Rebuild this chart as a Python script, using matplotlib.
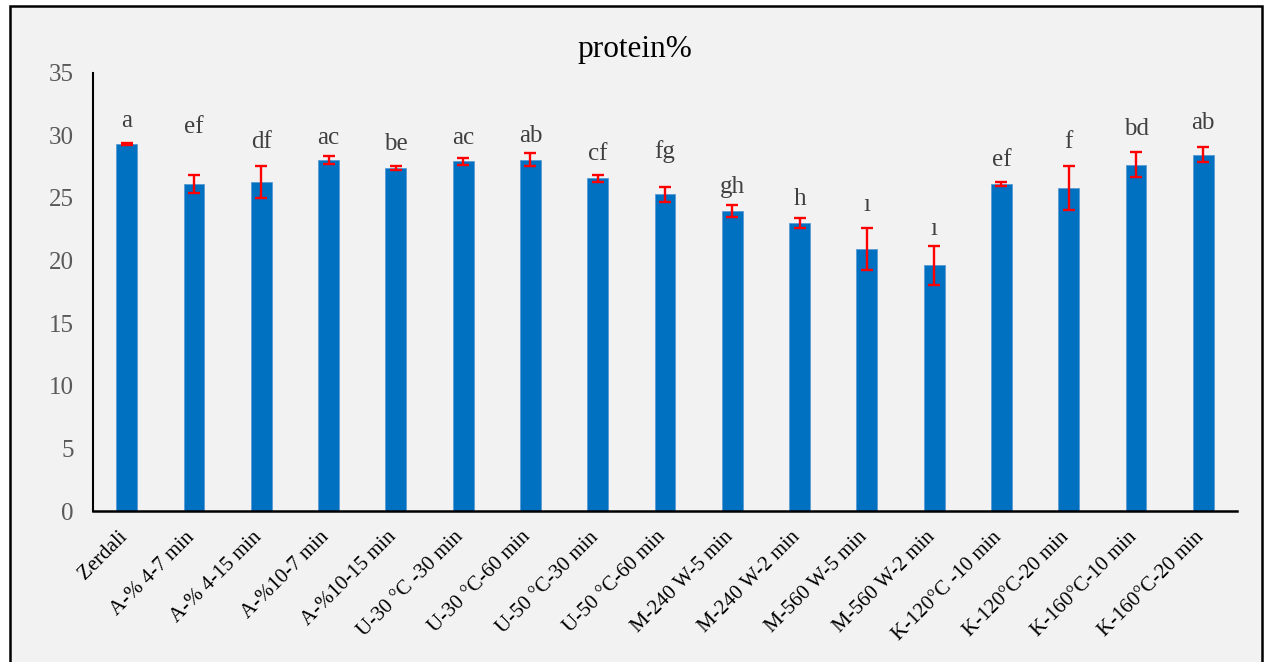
import matplotlib
matplotlib.use("Agg")
import matplotlib.pyplot as plt
from matplotlib.patches import Rectangle
from matplotlib.transforms import ScaledTranslation
import numpy as np

categories = ["Zerdali", "A-% 4-7 min", "A-% 4-15 min", "A-%10-7 min", "A-%10-15 min",
              "U-30 \u00b0C -30 min", "U-30 \u00b0C-60 min", "U-50 \u00b0C-30 min", "U-50 \u00b0C-60 min",
              "M-240 W-5 min", "M-240 W-2 min", "M-560 W-5 min", "M-560 W-2 min",
              "K-120\u00b0C -10 min", "K-120\u00b0C-20 min", "K-160\u00b0C-10 min", "K-160\u00b0C-20 min"]
values = [29.3, 26.1, 26.25, 28.0, 27.4, 27.9, 28.05, 26.55, 25.3, 23.95, 23.0, 20.9, 19.6,
          26.1, 25.8, 27.65, 28.45]
errors = [0.05, 0.7, 1.3, 0.33, 0.15, 0.28, 0.53, 0.3, 0.6, 0.47, 0.38, 1.65, 1.55,
          0.17, 1.77, 1.03, 0.6]
letters = ["a", "ef", "df", "ac", "be", "ac", "ab", "cf", "fg", "gh", "h", "\u0131", "\u0131",
           "ef", "f", "bd", "ab"]
letter_heights = [31.15, 30.65, 29.47, 29.79, 29.29, 29.79, 29.93, 28.49, 28.68, 25.86, 24.9,
                  24.42, 22.5, 28.01, 29.47, 30.49, 30.99]
yticks = [0, 5, 10, 15, 20, 25, 30, 35]
title = "protein%"

plt.rcParams['font.family'] = ['Liberation Serif', 'DejaVu Serif']

W, H = 1264, 662
fig = plt.figure(figsize=(W / 100, H / 100), dpi=100)
fig.patch.set_facecolor("white")
# chart area with border
fig.patches.append(Rectangle((10 / W, -0.05), (1262 - 10) / W, 1.05 - 6 / H,
                             transform=fig.transFigure, facecolor="#f2f2f2",
                             edgecolor="black", linewidth=1.8, zorder=-5))

ax = fig.add_axes([93 / W, 151 / H, (1237 - 93) / W, (511 - 72.5) / H])
ax.set_facecolor("none")

x = np.arange(len(categories))
ax.bar(x, values, width=0.31, color="#0070C0", edgecolor="#5b9bd5", linewidth=0.6, zorder=2)
ax.errorbar(x, values, yerr=errors, fmt="none", ecolor="#FF0000", elinewidth=1.7,
            capsize=4, capthick=1.7, zorder=3)

for xi, lab, hy in zip(x, letters, letter_heights):
    ax.text(xi, hy, lab, ha="center", va="center", fontsize=18, color="#404040")

ax.set_xlim(-0.5, len(categories) - 0.5)
ax.set_ylim(0, 35)
ax.set_yticks(yticks)
ax.tick_params(axis="y", length=0, pad=14, labelsize=18, labelcolor="#595959")
ax.tick_params(axis="x", length=0, pad=12)
ax.set_xticks(x)
ax.set_xticklabels(categories, rotation=45, ha="right", va="top", rotation_mode="anchor",
                   fontsize=15, color="black")
shift = ScaledTranslation(-9 / 100, 0, fig.dpi_scale_trans)
for lbl in ax.get_xticklabels():
    lbl.set_transform(lbl.get_transform() + shift)

for s in ["top", "right"]:
    ax.spines[s].set_visible(False)
ax.spines["left"].set_linewidth(1.5)
ax.spines["bottom"].set_linewidth(1.8)

fig.text(635 / W, 1 - 50 / H, title, ha="center", va="center", fontsize=22.5, color="black")

fig.savefig("out.png", dpi=100, facecolor=fig.get_facecolor())
